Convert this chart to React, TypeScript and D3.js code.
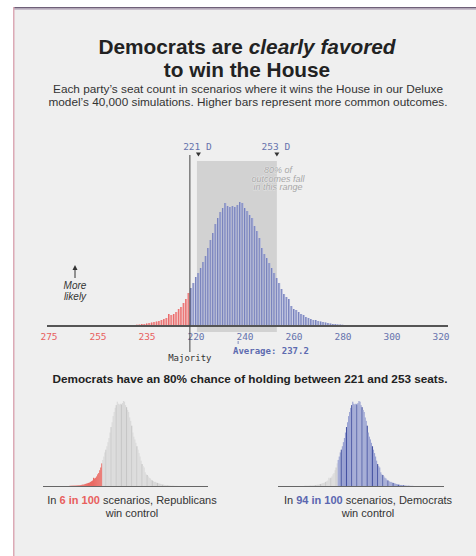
import React from "react";
import * as d3 from "d3";

// ---------- data ----------
const seats: number[] = d3.range(186, 291);
const frequency: number[] = [
  // 186-199
  0.3, 0.4, 0.5, 0.5, 0.6, 0.6, 0.7, 0.8, 1, 1, 1.3, 1.5, 2, 2,
  // 200-217 (Republican wins)
  2.5, 3, 3.5, 4, 4.5, 5, 6, 7, 8, 12, 11, 12, 14, 17, 19, 23, 27, 33,
  // 218-239
  38, 43, 49, 53, 58, 64, 70, 78, 86, 93, 102, 108, 114, 118, 123, 120, 119, 120, 119, 121, 124, 123,
  // 240-259
  118, 115, 111, 108, 100, 95, 88, 78, 72, 68, 63, 58, 53, 48, 43, 37, 32, 29, 27, 20,
  // 260-279
  17, 16, 14, 12, 11, 9, 8, 7, 6, 6, 5, 4.5, 4, 3.5, 3, 2.5, 2, 2, 1.5, 1.5,
  // 280-290
  1.2, 1, 0.8, 0.7, 0.5, 0.4, 0.3, 0.3, 0.2, 0.2, 0.2,
];
const majoritySeats = 218;
const tickSeats: number[] = [160, 180, 200, 220, 240, 260, 280, 300, 320];
const tickLabels: string[] = ["275", "255", "235", "220", "240", "260", "280", "300", "320"];
const rangeLow = 221;
const rangeHigh = 253;
const averageSeats = 237.2;
const demWinPct = 94;
const repWinPct = 6;

const data = seats.map((s, i) => ({ seat: s, value: frequency[i] ?? 0 }));

const RED_FILL = "#f4a3a1";
const RED_LINE = "#e4585a";
const BLUE_FILL = "#aab1da";
const BLUE_LINE = "#6874b2";
const BLUE_TEXT = "#6673ad";
const RED_TEXT = "#e8605d";
const SANS = "'Liberation Sans', Arial, sans-serif";
const MONO = "'DejaVu Sans Mono', monospace";

function SmallChart({ x0, x1, mode }: { x0: number; x1: number; mode: "rep" | "dem" }) {
  const xs = d3.scaleLinear().domain([160, 320]).range([x0, x1]);
  const ys = d3.scaleLinear().domain([0, d3.max(frequency)!]).range([486, 401]);
  const w = xs(161) - xs(160);
  return (
    <g>
      {data.map((d, i) => {
        const isRep = d.seat < majoritySeats;
        const highlighted = mode === "rep" ? isRep : !isRep;
        let fill: string;
        if (highlighted) {
          fill = mode === "rep" ? "#ea6a63" : (i % 5 === 0 ? "#4452a2" : "#99a2d2");
        } else {
          fill = i % 5 === 0 ? "#c6c6c6" : "#d9d9d9";
        }
        return (
          <rect key={d.seat} x={xs(d.seat) - w / 2} y={ys(d.value)} width={w + 0.1}
            height={486 - ys(d.value)} fill={fill} />
        );
      })}
      <line x1={x0} x2={x1} y1={486.5} y2={486.5} stroke="#666" strokeWidth={1} />
    </g>
  );
}

export default function App() {
  const x = d3.scaleLinear().domain([160, 320]).range([49, 441]);
  const y = d3.scaleLinear().domain([0, d3.max(frequency)!]).range([326, 202]);
  const step = x(161) - x(160);
  const bw = step * 0.75;
  const majX = x(majoritySeats - 0.5);

  return (
    <svg width={476} height={556} style={{ position: "absolute", left: 0, top: 0 }}
      fontFamily={SANS}>
      <rect x={0} y={0} width={476} height={556} fill="#ffffff" />
      <rect x={13} y={7} width={463} height={549} fill="#efefef" />
      <rect x={13} y={7} width={463} height={1.5} fill="#6e5f78" />
      <rect x={13} y={8.5} width={463} height={1.2} fill="#b8aabd" />
      <rect x={13} y={7} width={1.5} height={549} fill="#dcaab6" />

      {/* title */}
      <text x={247} y={54} textAnchor="middle" fontSize={20.8} fontWeight={700} fill="#222">
        Democrats are <tspan fontStyle="italic">clearly favored</tspan>
      </text>
      <text x={247} y={77} textAnchor="middle" fontSize={20.8} fontWeight={700} fill="#222">
        to win the House
      </text>
      <text x={248} y={93} textAnchor="middle" fontSize={11.8} fill="#333">
        Each party’s seat count in scenarios where it wins the House in our Deluxe
      </text>
      <text x={248} y={106} textAnchor="middle" fontSize={11.8} fill="#333">
        model’s 40,000 simulations. Higher bars represent more common outcomes.
      </text>

      {/* 80% range */}
      <rect x={x(rangeLow) - 1.5} y={161} width={x(rangeHigh) - x(rangeLow) + 1.5} height={171} fill="#d2d2d2" />

      {/* bars */}
      {data.map((d) => {
        const rep = d.seat < majoritySeats;
        return (
          <g key={d.seat}>
            <rect x={x(d.seat) - bw / 2} y={y(d.value)} width={bw} height={326 - y(d.value)}
              fill={rep ? RED_FILL : BLUE_FILL} />
            <line x1={x(d.seat) - bw / 2 + 0.4} x2={x(d.seat) - bw / 2 + 0.4} y1={y(d.value)} y2={326}
              stroke={rep ? RED_LINE : BLUE_LINE} strokeWidth={0.8} />
          </g>
        );
      })}

      <text x={278} y={173} textAnchor="middle" fontSize={9} fontStyle="italic" fill="#a6a6a6"
        stroke="#f4f4f4" strokeWidth={0.6} paintOrder="stroke">
        <tspan x={278}>80% of</tspan>
        <tspan x={278} dy={8.5}>outcomes fall</tspan>
        <tspan x={278} dy={8.5}>in this range</tspan>
      </text>

      {/* axis */}
      <line x1={47} x2={448} y1={326} y2={326} stroke="#555" strokeWidth={2} />
      {tickSeats.map((s, i) => (
        <text key={s} x={x(s)} y={340} textAnchor="middle" fontFamily={MONO} fontSize={9.5}
          fill={s < majoritySeats ? RED_TEXT : BLUE_TEXT}>{tickLabels[i]}</text>
      ))}

      {/* majority */}
      <line x1={majX} x2={majX} y1={155} y2={352} stroke="#444" strokeWidth={1} />
      <text x={majX} y={361} textAnchor="middle" fontFamily={MONO} fontSize={9} fill="#333">Majority</text>

      {/* range labels */}
      {[rangeLow, rangeHigh].map((s) => (
        <g key={s}>
          <text x={x(s) - 1} y={150} textAnchor="middle" fontFamily={MONO} fontSize={9.5} fill={BLUE_TEXT}>{`${s} D`}</text>
          <path d={`M${x(s) - 2.5},152.5 L${x(s) + 2.5},152.5 L${x(s)},156.5 Z`} fill="#333" />
        </g>
      ))}

      {/* average */}
      <line x1={x(averageSeats)} x2={x(averageSeats)} y1={341} y2={344} stroke={BLUE_TEXT} strokeWidth={0.8} />
      <text x={233} y={354} fontFamily={MONO} fontSize={9} fontWeight={700} fill="#5d6bb0">
        Average: {averageSeats}
      </text>

      {/* more likely */}
      <line x1={75} x2={75} y1={268} y2={278} stroke="#333" strokeWidth={1} />
      <path d="M72.5,270 L75,265 L77.5,270 Z" fill="#333" />
      <text x={75} y={289} textAnchor="middle" fontSize={10} fontStyle="italic" fill="#333">More</text>
      <text x={75} y={300} textAnchor="middle" fontSize={10} fontStyle="italic" fill="#333">likely</text>

      {/* sub heading */}
      <text x={250} y={383} textAnchor="middle" fontSize={11.75} fontWeight={700} fill="#222">
        Democrats have an 80% chance of holding between {rangeLow} and {rangeHigh} seats.
      </text>

      <SmallChart x0={43} x1={208} mode="rep" />
      <SmallChart x0={278} x1={444} mode="dem" />

      <text x={132} y={504} textAnchor="middle" fontSize={11} fill="#333">
        In <tspan fill={RED_TEXT} fontWeight={700}>{repWinPct} in 100</tspan> scenarios, Republicans
      </text>
      <text x={132} y={517} textAnchor="middle" fontSize={11} fill="#333">win control</text>
      <text x={368} y={504} textAnchor="middle" fontSize={11} fill="#333">
        In <tspan fill="#5a66b0" fontWeight={700}>{demWinPct} in 100</tspan> scenarios, Democrats
      </text>
      <text x={368} y={517} textAnchor="middle" fontSize={11} fill="#333">win control</text>
    </svg>
  );
}
